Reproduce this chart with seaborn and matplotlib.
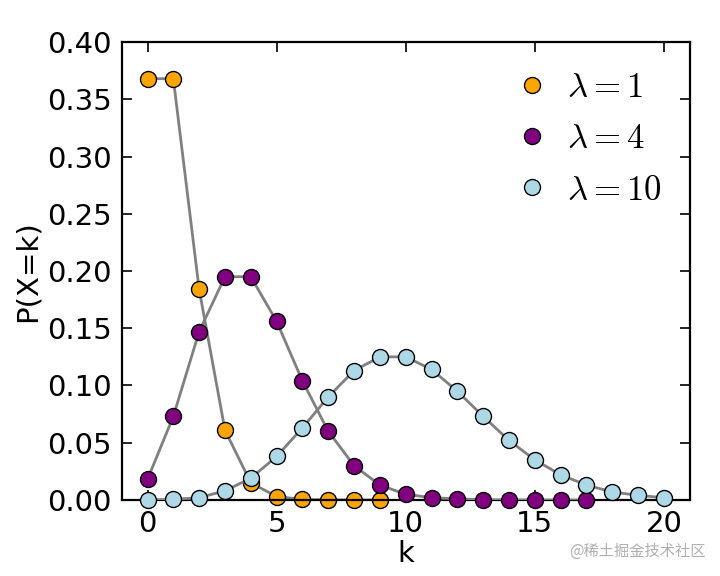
import matplotlib
matplotlib.use('Agg')
import matplotlib.pyplot as plt
import seaborn as sns
import pandas as pd

# Poisson pmf values
k_lam1 = list(range(10))
p_lam1 = [0.368, 0.368, 0.184, 0.061, 0.015, 0.003, 0.0005, 0.0001, 0.0000, 0.0000]

k_lam4 = list(range(18))
p_lam4 = [0.018, 0.073, 0.147, 0.195, 0.195, 0.156, 0.104, 0.060, 0.030,
          0.013, 0.005, 0.002, 0.001, 0.0002, 0.0001, 0.0000, 0.0000, 0.0000]

k_lam10 = list(range(21))
p_lam10 = [0.00005, 0.0005, 0.002, 0.008, 0.019, 0.038, 0.063, 0.090, 0.113,
           0.125, 0.125, 0.114, 0.095, 0.073, 0.052, 0.035, 0.022, 0.013,
           0.007, 0.004, 0.002]

labels = [r'$\lambda=1$', r'$\lambda=4$', r'$\lambda=10$']
colors = ['orange', 'purple', 'lightblue']

sns.set_style('ticks')
plt.rcParams['font.family'] = ['DejaVu Sans']
plt.rcParams['mathtext.fontset'] = 'cm'
for key in ['text.color', 'axes.labelcolor', 'xtick.color', 'ytick.color', 'axes.edgecolor']:
    plt.rcParams[key] = 'black'

fig = plt.figure(figsize=(7.2, 5.76), dpi=100)
ax = fig.add_axes([0.169, 0.132, 0.789, 0.795])

series = [(k_lam1, p_lam1), (k_lam4, p_lam4), (k_lam10, p_lam10)]
for i, ((ks, ps), lab, col) in enumerate(zip(series, labels, colors)):
    df = pd.DataFrame({'k': ks, 'p': ps})
    sns.lineplot(data=df, x='k', y='p', color='gray', linewidth=2.0, ax=ax,
                 zorder=1 + 2 * i, legend=False)
    ax.plot(df['k'], df['p'], 'o', color=col, markeredgecolor='black',
            markeredgewidth=1.0, markersize=11.5, label=lab, zorder=2 + 2 * i,
            clip_on=False)

ax.set_xlim(-1, 21)
ax.set_ylim(0, 0.40)
ax.set_xticks([0, 5, 10, 15, 20])
ax.set_yticks([0.0, 0.05, 0.10, 0.15, 0.20, 0.25, 0.30, 0.35, 0.40])
ax.set_yticklabels(['%.2f' % v for v in ax.get_yticks()])
ax.tick_params(direction='in', top=True, right=True, length=7, width=1.2,
               labelsize=21, pad=7)
for sp in ax.spines.values():
    sp.set_linewidth(1.6)
    sp.set_visible(True)
ax.set_xlabel('k', fontsize=21, labelpad=2)
ax.set_ylabel('P(X=k)', fontsize=21, labelpad=4)

leg = ax.legend(loc='upper right', frameon=False, fontsize=25, numpoints=1,
                handletextpad=0.2, labelspacing=0.5, borderaxespad=0.4,
                handlelength=1.6)

fig.text(0.98, 0.043, '@稀土掘金技术社区', ha='right', va='center', fontsize=11,
         color='#b0b0b0', family=['Noto Sans CJK SC', 'DejaVu Sans'])

fig.savefig('out.png', dpi=100)
